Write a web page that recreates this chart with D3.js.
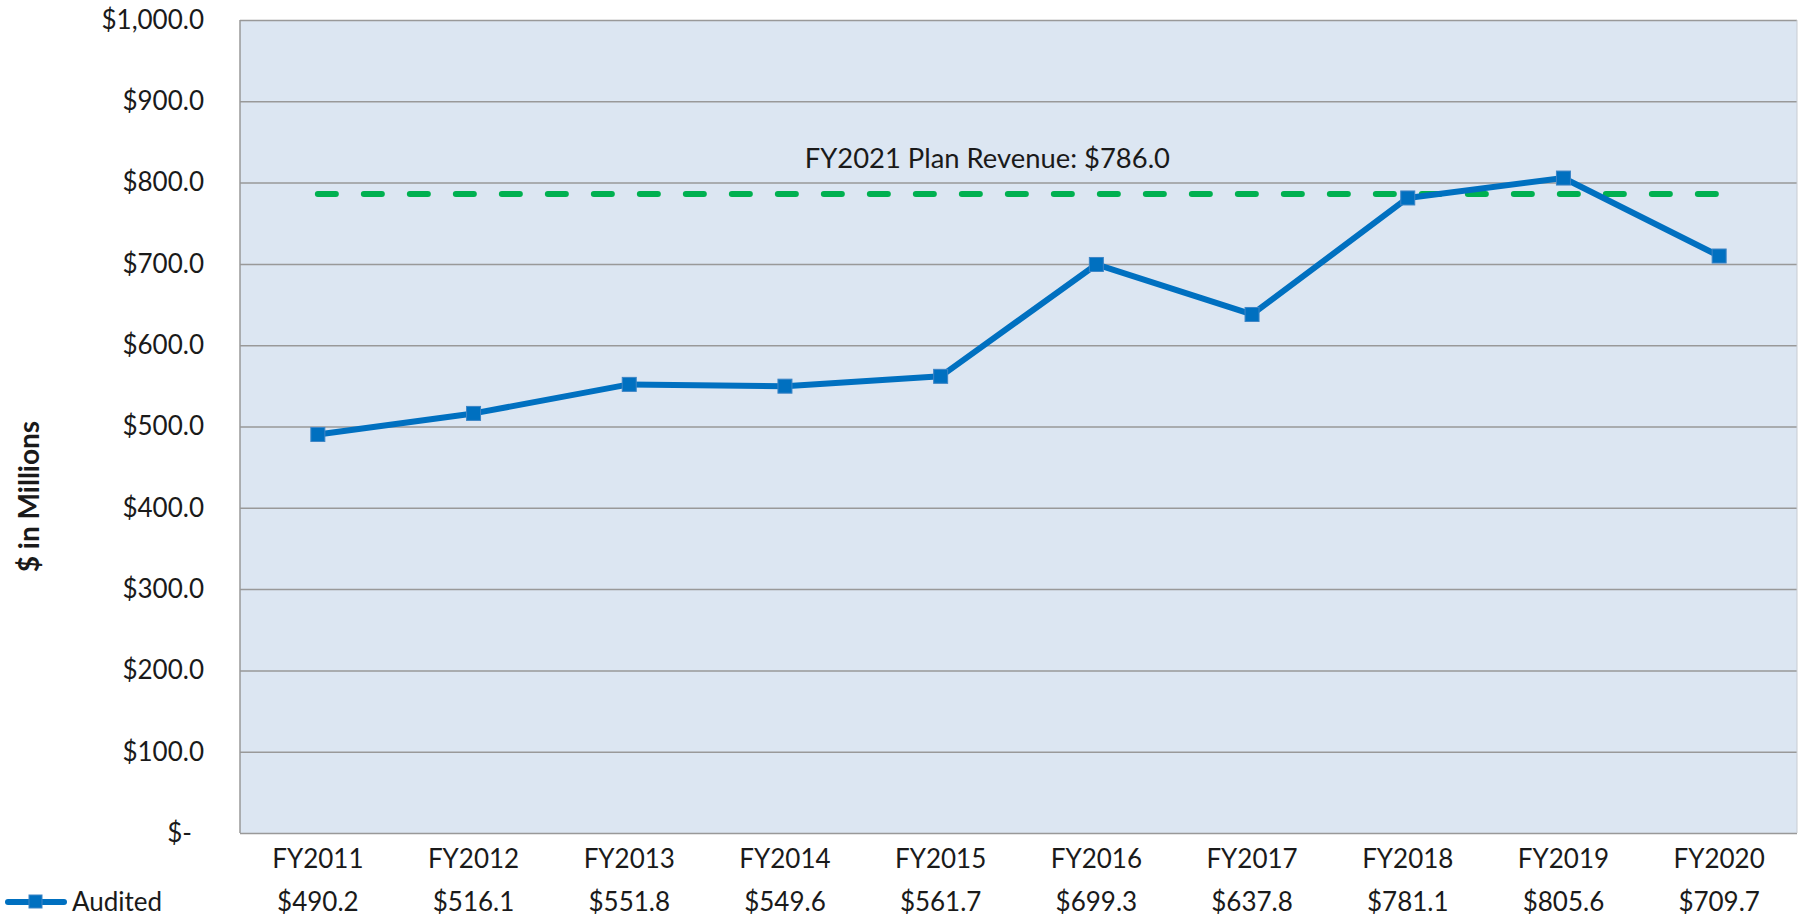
<!DOCTYPE html>
<html>
<head>
<meta charset="utf-8">
<script src="https://cdn.jsdelivr.net/npm/d3@7"></script>
<style>
  body { margin: 0; background: #fff; }
  text { font-family: Lato, "Open Sans", sans-serif; fill: #1a1a1a; }
</style>
</head>
<body>
<script>
'use strict';

var width = 1805,
    height = 920;

// chart data
var years = ["FY2011", "FY2012", "FY2013", "FY2014", "FY2015",
             "FY2016", "FY2017", "FY2018", "FY2019", "FY2020"];
var audited = [490.2, 516.1, 551.8, 549.6, 561.7, 699.3, 637.8, 781.1, 805.6, 709.7];
var planRevenue = 786.0;
var yTicks = [0, 100, 200, 300, 400, 500, 600, 700, 800, 900, 1000];
var seriesName = "Audited";

var plot = {left: 240, right: 1797, top: 20, bottom: 833};

var x = d3.scaleBand()
  .domain(years)
  .range([plot.left, plot.right]);

var y = d3.scaleLinear()
  .domain([0, 1000])
  .range([plot.bottom, plot.top]);

var fmt = d3.format(",.1f");
function money(v) { return v === 0 ? "$-" : "$" + fmt(v); }

var svg = d3.select("body").append("svg")
  .attr("width", width)
  .attr("height", height);

// plot background
svg.append("rect")
  .attr("x", plot.left)
  .attr("y", plot.top)
  .attr("width", plot.right - plot.left)
  .attr("height", plot.bottom - plot.top)
  .attr("fill", "#dce6f2");

// gridlines + y labels
var yAxis = d3.axisLeft(y)
  .tickValues(yTicks)
  .tickSize(-(plot.right - plot.left))
  .tickPadding(35)
  .tickFormat(money);

var gy = svg.append("g")
  .attr("transform", "translate(" + plot.left + ",0)")
  .call(yAxis);
gy.select(".domain").remove();
gy.selectAll(".tick line")
  .attr("stroke", "#999")
  .attr("stroke-width", 1.5);
gy.selectAll(".tick text")
  .attr("font-size", 26)
  .attr("fill", "#1a1a1a")
  .attr("x", function(d) { return d === 0 ? -48 : -36; })
  .style("font-family", "Lato, sans-serif");

// frame lines
svg.append("line")
  .attr("x1", plot.left).attr("x2", plot.left)
  .attr("y1", plot.top).attr("y2", plot.bottom)
  .attr("stroke", "#999").attr("stroke-width", 1.5);
svg.append("line")
  .attr("x1", plot.right).attr("x2", plot.right)
  .attr("y1", plot.top).attr("y2", plot.bottom)
  .attr("stroke", "#c8ccd2").attr("stroke-width", 1);

// y title
svg.append("text")
  .attr("transform", "translate(39," + ((plot.top + plot.bottom) / 2 + 70) + ") rotate(-90)")
  .attr("text-anchor", "middle")
  .attr("font-size", 28)
  .attr("font-weight", "bold")
  .text("$ in Millions");

// plan revenue line
var firstX = x(years[0]) + x.bandwidth() / 2,
    lastX = x(years[years.length - 1]) + x.bandwidth() / 2;

svg.append("line")
  .attr("x1", firstX)
  .attr("x2", lastX)
  .attr("y1", y(planRevenue))
  .attr("y2", y(planRevenue))
  .attr("stroke", "#00b050")
  .attr("stroke-width", 6)
  .attr("stroke-linecap", "round")
  .attr("stroke-dasharray", "18,28");

svg.append("text")
  .attr("x", x("FY2015") + x.bandwidth() * 0.8)
  .attr("y", y(planRevenue) - 26)
  .attr("text-anchor", "middle")
  .attr("font-size", 27.4)
  .text("FY2021 Plan Revenue: $" + d3.format(".1f")(planRevenue));

// audited line
var line = d3.line()
  .x(function(d, i) { return x(years[i]) + x.bandwidth() / 2; })
  .y(function(d) { return y(d); });

svg.append("path")
  .datum(audited)
  .attr("fill", "none")
  .attr("stroke", "#0070c0")
  .attr("stroke-width", 6)
  .attr("stroke-linejoin", "round")
  .attr("d", line);

svg.selectAll("rect.marker")
  .data(audited)
  .enter().append("rect")
  .attr("class", "marker")
  .attr("x", function(d, i) { return x(years[i]) + x.bandwidth() / 2 - 7; })
  .attr("y", function(d) { return y(d) - 7; })
  .attr("width", 14)
  .attr("height", 14)
  .attr("fill", "#0070c0")
  .attr("stroke", "#3d85c6")
  .attr("stroke-width", 1);

// category labels
svg.selectAll("text.cat")
  .data(years)
  .enter().append("text")
  .attr("class", "cat")
  .attr("x", function(d) { return x(d) + x.bandwidth() / 2; })
  .attr("y", 868)
  .attr("text-anchor", "middle")
  .attr("font-size", 26)
  .text(function(d) { return d; });

// data table row
svg.selectAll("text.val")
  .data(audited)
  .enter().append("text")
  .attr("class", "val")
  .attr("x", function(d, i) { return x(years[i]) + x.bandwidth() / 2; })
  .attr("y", 911)
  .attr("text-anchor", "middle")
  .attr("font-size", 26)
  .text(function(d) { return "$" + fmt(d); });

// legend key
var key = svg.append("g");
key.append("line")
  .attr("x1", 8).attr("x2", 64)
  .attr("y1", 902).attr("y2", 902)
  .attr("stroke", "#0070c0")
  .attr("stroke-width", 6)
  .attr("stroke-linecap", "round");
key.append("rect")
  .attr("x", 29).attr("y", 895)
  .attr("width", 13).attr("height", 13)
  .attr("fill", "#0070c0")
  .attr("stroke", "#3d85c6");
key.append("text")
  .attr("x", 72)
  .attr("y", 911)
  .attr("font-size", 26)
  .text(seriesName);
</script>
</body>
</html>
